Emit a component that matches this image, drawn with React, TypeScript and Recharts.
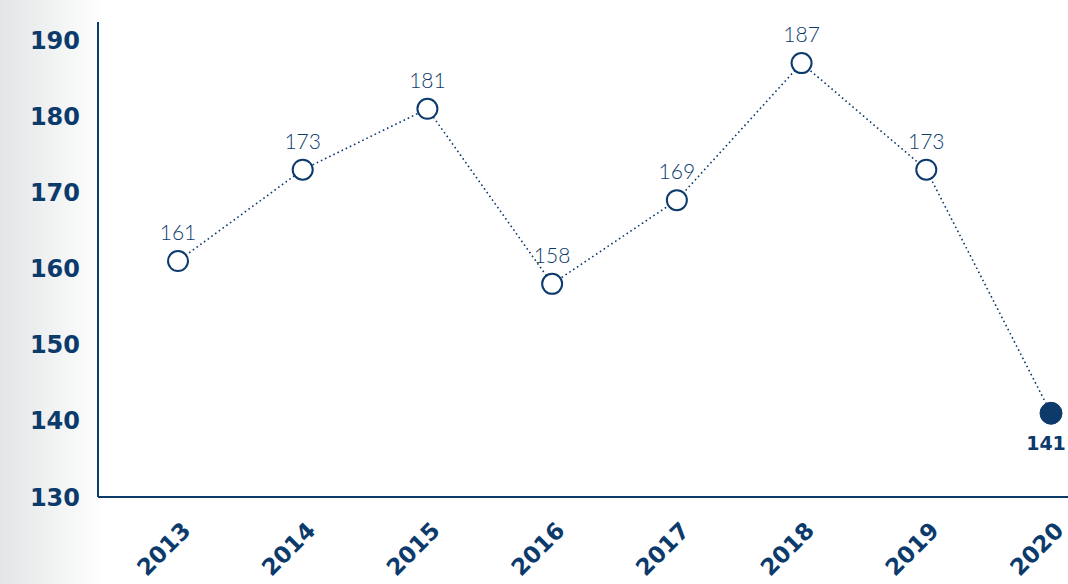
import React from "react";
import { LineChart, Line, XAxis, YAxis, LabelList } from "recharts";

const years = ["2013", "2014", "2015", "2016", "2017", "2018", "2019", "2020"];
const counts = [161, 173, 181, 158, 169, 187, 173, 141];
const yTicks = [130, 140, 150, 160, 170, 180, 190];

const NAVY = "#0c3a6b";

const data = years.map((year, i) => ({ year, value: counts[i] }));

const XTick = (props: any) => {
    const { x, y, payload } = props;
    const ax = x + 14;
    const ay = y + 27;
    return (
        <text
            x={ax}
            y={ay}
            textAnchor="end"
            transform={`rotate(-45 ${ax} ${ay})`}
            fill={NAVY}
            fontSize={23}
            fontWeight={800}
            fontFamily="'DejaVu Sans', sans-serif"
        >
            {payload.value}
        </text>
    );
};

const Dot = (props: any) => {
    const { cx, cy, index } = props;
    // last year is highlighted with a solid marker
    if (index === years.length - 1) {
        return <circle cx={cx} cy={cy} r={11} fill={NAVY} stroke={NAVY} />;
    }
    return <circle cx={cx} cy={cy} r={10} fill="#fff" stroke={NAVY} strokeWidth={2} />;
};

const ValueLabel = (props: any) => {
    const { x, y, value, index } = props;
    const last = index === years.length - 1;
    return (
        <text
            x={last ? x - 5 : x}
            y={last ? y + 37 : y - 21}
            textAnchor="middle"
            fill={NAVY}
            fontSize={last ? 19 : 21}
            fontWeight={last ? 800 : 300}
            fontFamily={last ? "'DejaVu Sans', sans-serif" : "Lato, 'Open Sans', sans-serif"}
        >
            {value}
        </text>
    );
};

export default function App() {
    return (
        <div
            style={{
                position: "absolute",
                left: 0,
                top: 0,
                width: 1068,
                height: 584,
                overflow: "hidden",
                background: "linear-gradient(to right, #e3e5e6 0px, #ffffff 105px)",
            }}
        >
            <LineChart
                width={1068}
                height={584}
                data={data}
                margin={{ top: 22, right: 0, bottom: 0, left: 0 }}
            >
                <XAxis
                    dataKey="year"
                    height={87}
                    padding={{ left: 80, right: 17 }}
                    axisLine={{ stroke: NAVY, strokeWidth: 2 }}
                    tickLine={false}
                    tick={<XTick />}
                    interval={0}
                />
                <YAxis
                    width={98}
                    domain={[130, 192.4]}
                    ticks={yTicks}
                    allowDataOverflow
                    axisLine={{ stroke: NAVY, strokeWidth: 2 }}
                    tickLine={false}
                    tickSize={0}
                    tickMargin={18}
                    tick={{
                        fill: NAVY,
                        fontSize: 24,
                        fontWeight: 800,
                        fontFamily: "'DejaVu Sans', sans-serif",
                    }}
                />
                <Line
                    type="linear"
                    dataKey="value"
                    stroke={NAVY}
                    strokeWidth={1.6}
                    strokeDasharray="1.6 3"
                    dot={<Dot />}
                    activeDot={false}
                    isAnimationActive={false}
                >
                    <LabelList dataKey="value" content={<ValueLabel />} />
                </Line>
            </LineChart>
        </div>
    );
}
